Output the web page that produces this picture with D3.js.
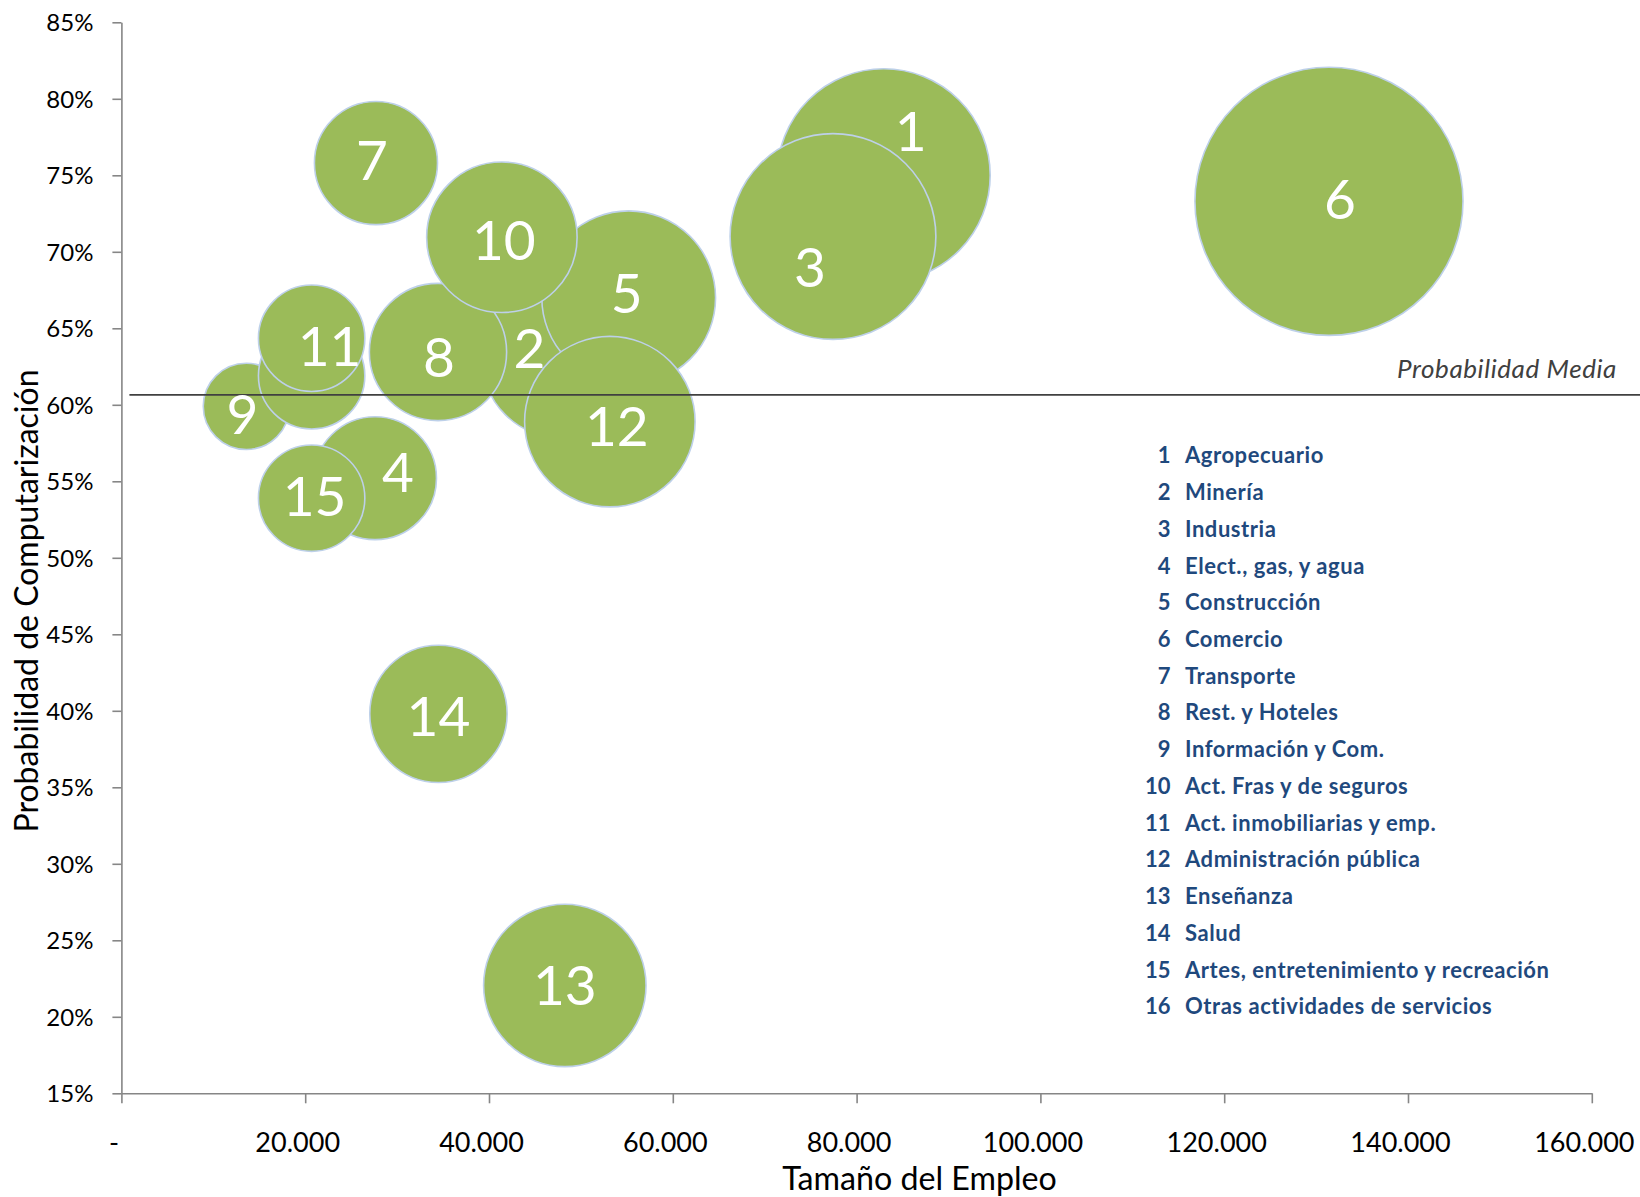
<!DOCTYPE html>
<html>
<head>
<meta charset="utf-8">
<script src="https://cdn.jsdelivr.net/npm/d3@7"></script>
<style>
  html, body { margin: 0; padding: 0; background: #ffffff; }
  svg { display: block; font-family: Lato, "Open Sans", "Noto Sans", sans-serif; }
</style>
</head>
<body>
<svg id="chart" width="1640" height="1197"></svg>
<script>
// ---------------- DATA ----------------
const ids = [1, 2, 3, 4, 5, 6, 7, 8, 9, 10, 11, 12, 13, 14, 15, 16];
const sectores = [
  "Agropecuario", "Minería", "Industria", "Elect., gas, y agua", "Construcción",
  "Comercio", "Transporte", "Rest. y Hoteles", "Información y Com.",
  "Act. Fras y de seguros", "Act. inmobiliarias y emp.", "Administración pública",
  "Enseñanza", "Salud", "Artes, entretenimiento y recreación", "Otras actividades de servicios"
];
// Tamaño del Empleo (x) — also drives bubble size
const empleo = [82950, 48000, 77430, 27600, 55200, 131400, 27700, 34450, 13600, 41400, 20700, 53150, 48250, 34500, 20700, 20700];
// Probabilidad de Computarización (%)
const probabilidad = [75.0, 63.1, 71.0, 55.2, 67.0, 73.3, 75.8, 63.45, 59.9, 70.95, 64.35, 58.9, 22.05, 39.8, 53.9, 61.9];
const probMedia = 60.65;
const xTicks = [0, 20000, 40000, 60000, 80000, 100000, 120000, 140000, 160000];
const yTicks = [15, 20, 25, 30, 35, 40, 45, 50, 55, 60, 65, 70, 75, 80, 85];
// sector 16 has no visible label in the original; drawing order puts it under 11
const drawOrder = [1, 2, 3, 4, 5, 6, 7, 8, 9, 10, 16, 11, 12, 13, 14, 15];

// ---------------- STYLE / LAYOUT ----------------
const W = 1640, H = 1197;
const plot = { left: 121.4, right: 1591.8, top: 22.3, bottom: 1093.3 };
const green = "#9BBB59", bubbleStroke = "#BDD0E9", axisColor = "#868686", legendColor = "#1F497D";
// label nudges (px) relative to bubble centre, as placed in the original
const labelNudge = {1:[27,-44],2:[-33,-9],3:[-23,31],4:[23,-6],5:[-2,-5],6:[11,-2],7:[-4,-3],8:[1,5],
  9:[-4,8],10:[2,3],11:[18,8],12:[7,5],13:[0,0],14:[0,2],15:[3,-2]};

const svg = d3.select("#chart");

const x = d3.scaleLinear().domain([0, 160000]).range([plot.left, plot.right]);
const y = d3.scaleLinear().domain([15, 85]).range([plot.bottom, plot.top]);
const r = d3.scaleSqrt().domain([0, 160000]).range([0, 147.9]);

const loc = d3.formatLocale({ decimal: ",", thousands: ".", grouping: [3], currency: ["", ""] });
const fmtX = v => v === 0 ? "-" : loc.format(",")(v);

// ---------------- AXES ----------------
const gx = svg.append("g").attr("transform", `translate(0,${plot.bottom})`)
  .call(d3.axisBottom(x).tickValues(xTicks).tickSize(10).tickSizeOuter(0).tickFormat(fmtX));
gx.select(".domain").attr("stroke", axisColor).attr("stroke-width", 1.6);
gx.selectAll(".tick line").attr("stroke", axisColor).attr("stroke-width", 1.6);
gx.selectAll(".tick text").attr("y", 58.7).attr("dy", 0).attr("dx", -8)
  .attr("font-size", 27).attr("fill", "#000").attr("font-family", "Lato");

const gy = svg.append("g").attr("transform", `translate(${plot.left},0)`)
  .call(d3.axisLeft(y).tickValues(yTicks).tickSize(9).tickSizeOuter(0).tickPadding(19).tickFormat(d => d + "%"));
gy.select(".domain").attr("stroke", axisColor).attr("stroke-width", 1.6);
gy.selectAll(".tick line").attr("stroke", axisColor).attr("stroke-width", 1.6);
gy.selectAll(".tick text").attr("dy", "0.36em")
  .attr("font-size", 24).attr("fill", "#000").attr("font-family", "Lato");

// axis titles
svg.append("text").attr("transform", `translate(38,601) rotate(-90)`)
  .attr("text-anchor", "middle").attr("font-size", 32).attr("fill", "#000")
  .text("Probabilidad de Computarización");
svg.append("text").attr("x", 919.5).attr("y", 1190)
  .attr("text-anchor", "middle").attr("font-size", 32.2).attr("fill", "#000")
  .text("Tamaño del Empleo");

// ---------------- BUBBLES ----------------
const data = ids.map((id, i) => ({ id, sector: sectores[i], emp: empleo[i], p: probabilidad[i] }));
const byId = new Map(data.map(d => [d.id, d]));
const ordered = drawOrder.map(id => byId.get(id));

svg.append("g").selectAll("circle").data(ordered).join("circle")
  .attr("cx", d => x(d.emp)).attr("cy", d => y(d.p)).attr("r", d => r(d.emp))
  .attr("fill", green).attr("stroke", bubbleStroke).attr("stroke-width", 1.6);

// mean probability line
svg.append("line")
  .attr("x1", plot.left + 8).attr("x2", W)
  .attr("y1", y(probMedia)).attr("y2", y(probMedia))
  .attr("stroke", "#404040").attr("stroke-width", 1.8);
svg.append("text").attr("x", 1617).attr("y", y(probMedia) - 17)
  .attr("text-anchor", "end").attr("font-size", 26).attr("letter-spacing", 0.6)
  .attr("font-style", "italic").attr("fill", "#404040")
  .text("Probabilidad Media");

// bubble labels
svg.append("g").selectAll("text").data(data.filter(d => labelNudge[d.id])).join("text")
  .attr("x", d => x(d.emp) + labelNudge[d.id][0])
  .attr("y", d => y(d.p) + labelNudge[d.id][1])
  .attr("dy", "0.36em").attr("text-anchor", "middle")
  .attr("font-size", 55).attr("fill", "#ffffff")
  .text(d => d.id);

// ---------------- LEGEND (text box) ----------------
const legY = d3.scaleLinear().domain([0, 15]).range([463.3, 1014.3]);
const leg = svg.append("g").attr("font-weight", "bold").attr("font-size", 22).attr("fill", legendColor);
leg.selectAll("text.num").data(data).join("text").attr("class", "num")
  .attr("x", 1170.5).attr("y", (d, i) => legY(i)).attr("text-anchor", "end").text(d => d.id);
leg.selectAll("text.lab").data(data).join("text").attr("class", "lab")
  .attr("x", 1185).attr("y", (d, i) => legY(i)).attr("letter-spacing", 0.55).text(d => d.sector);
</script>
</body>
</html>
